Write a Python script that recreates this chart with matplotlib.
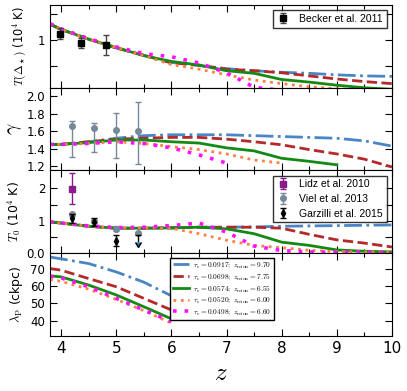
import numpy as np
import matplotlib.pyplot as plt
from matplotlib.ticker import MultipleLocator, FixedLocator, FixedFormatter

plt.rcParams['mathtext.fontset'] = 'cm'
plt.rcParams['font.family'] = 'DejaVu Sans'

# model grid
z_grid = [3.8, 4.0, 4.5, 5.0, 5.5, 6.0, 6.5, 7.0, 7.5, 8.0, 8.5, 9.0, 9.5, 10.0]

labels = [r"$\tau_{\rm e} = 0.0917;\ z_{\rm reion} = 9.70$",
          r"$\tau_{\rm e} = 0.0698;\ z_{\rm reion} = 7.75$",
          r"$\tau_{\rm e} = 0.0574;\ z_{\rm reion} = 6.55$",
          r"$\tau_{\rm e} = 0.0520;\ z_{\rm reion} = 6.00$",
          r"$\tau_{\rm e} = 0.0498;\ z_{\rm reion} = 6.60$"]
colors = ['#4a86c5', '#b22a2a', '#148a14', '#ff7f45', '#ff10ff']
styles = ['-.', '--', '-', ':', (0, (1, 2.2))]
widths = [2.0, 2.0, 2.0, 2.0, 2.6]

# T(Delta_star) in 10^4 K
tdel_blue = [1.30, 1.20, 1.01, 0.84, 0.70, 0.56, 0.50, 0.44, 0.40, 0.37, 0.35, 0.32, 0.30, 0.29]
tdel_red = [1.30, 1.20, 1.01, 0.84, 0.70, 0.55, 0.51, 0.43, 0.40, 0.36, 0.30, 0.24, 0.19, 0.15]
tdel_green = [1.30, 1.20, 1.01, 0.85, 0.69, 0.58, 0.51, 0.40, 0.35, 0.23, 0.18, 0.12, 0.07, 0.04]
tdel_orange = [1.30, 1.20, 1.01, 0.85, 0.69, 0.52, 0.43, 0.32, 0.22, 0.15, 0.09, 0.05, 0.03, 0.02]
tdel_magenta = [1.31, 1.21, 1.02, 0.86, 0.73, 0.67, 0.55, 0.36, 0.08, 0.02, 0.01, 0.01, 0.01, 0.01]

# gamma
gam_blue = [1.45, 1.45, 1.48, 1.52, 1.55, 1.56, 1.56, 1.56, 1.55, 1.54, 1.53, 1.52, 1.49, 1.43]
gam_red = [1.45, 1.45, 1.48, 1.51, 1.52, 1.53, 1.53, 1.51, 1.48, 1.445, 1.39, 1.34, 1.28, 1.19]
gam_green = [1.45, 1.45, 1.47, 1.50, 1.50, 1.48, 1.465, 1.41, 1.375, 1.29, 1.255, 1.215]
gam_orange = [1.45, 1.45, 1.46, 1.48, 1.46, 1.425, 1.39, 1.34, 1.27, 1.235]
gam_magenta = [1.45, 1.45, 1.46, 1.48, 1.46, 1.41, 1.33, 1.235]

# T0 in 10^4 K
t0_blue = [0.96, 0.93, 0.83, 0.77, 0.77, 0.78, 0.80, 0.80, 0.81, 0.83, 0.84, 0.85, 0.86, 0.87]
t0_red = [0.96, 0.93, 0.83, 0.77, 0.77, 0.78, 0.80, 0.80, 0.80, 0.77, 0.58, 0.41, 0.31, 0.19]
t0_green = [0.96, 0.93, 0.83, 0.77, 0.77, 0.78, 0.80, 0.75, 0.60, 0.34, 0.24, 0.10, 0.06, 0.04]
t0_orange = [0.96, 0.93, 0.83, 0.77, 0.77, 0.77, 0.60, 0.40, 0.24, 0.17, 0.09, 0.05, 0.04, 0.03]
t0_magenta = [0.97, 0.93, 0.84, 0.79, 0.80, 0.85, 0.93, 0.65, 0.22, 0.08, 0.04, 0.03, 0.03, 0.02]

# lambda_P in ckpc
lam_blue = [77.2, 76.2, 73.4, 68.5, 62.5, 54.5]
lam_red = [70.5, 69.5, 64.6, 59.8, 53.0, 46.2]
lam_green = [66.2, 65.6, 60.8, 55.0, 48.1, 41.0]
lam_orange = [64.0, 63.0, 58.4, 52.4, 45.8, 38.5]
lam_magenta = [66.0, 65.0, 59.8, 53.0, 46.2, 39.4]

# observations
becker_z = [3.98, 4.37, 4.82]
becker_t = [1.12, 0.94, 0.90]
becker_err = [0.10, 0.10, 0.20]

viel_z = [4.2, 4.6, 5.0, 5.4]
viel_gam = [1.66, 1.64, 1.62, 1.60]
viel_gam_lo = [0.36, 0.28, 0.33, 0.37]
viel_gam_hi = [0.06, 0.06, 0.19, 0.34]
viel_t0 = [1.20, 0.98, 0.76, 0.62]
viel_t0_err = [0.05, 0.05, 0.07, 0.04]

lidz_z = [4.2]
lidz_t0 = [1.99]
lidz_err = [0.47]

garz_z = [4.2, 4.6, 5.0]
garz_t0 = [1.07, 0.96, 0.39]
garz_err = [0.15, 0.13, 0.18]
garz_lim_z = [5.4]
garz_lim_t0 = [0.55]

fig, axes = plt.subplots(4, 1, sharex=True, figsize=(4.07, 3.91), dpi=100)
fig.subplots_adjust(left=0.123, right=0.963, top=0.987, bottom=0.141, hspace=0)

panels = [
    [tdel_blue, tdel_red, tdel_green, tdel_orange, tdel_magenta],
    [gam_blue, gam_red, gam_green, gam_orange, gam_magenta],
    [t0_blue, t0_red, t0_green, t0_orange, t0_magenta],
    [lam_blue, lam_red, lam_green, lam_orange, lam_magenta],
]

lines = []
for ax, series in zip(axes, panels):
    for k, y in enumerate(series):
        l, = ax.plot(z_grid[:len(y)], y, color=colors[k], ls=styles[k], lw=widths[k],
                     zorder=2)
        if ax is axes[3]:
            lines.append(l)

for ax in axes:
    ax.set_xlim(3.8, 10)
    ax.xaxis.set_major_locator(MultipleLocator(1))
    ax.xaxis.set_minor_locator(MultipleLocator(0.5))
    ax.tick_params(which='both', direction='in', top=True, right=True, labelsize=8.5)
    ax.tick_params(which='major', length=5, width=0.8)
    ax.tick_params(which='minor', length=3, width=0.8)

legfont = {'family': 'Liberation Sans', 'size': 7.5}

# panel 1
ax = axes[0]
ax.set_ylim(0.07, 1.67)
ax.yaxis.set_major_locator(FixedLocator([0.5, 1.0, 1.5]))
ax.yaxis.set_major_formatter(FixedFormatter(['', '1', '']))
ax.errorbar(becker_z, becker_t, yerr=becker_err, fmt='s', color='black', ms=4,
            ecolor='#444444', capsize=2.5, elinewidth=1, label='Becker et al. 2011', zorder=3)
ax.set_ylabel(r"$T(\Delta_\star)$ (10$^4$ K)", fontsize=8.3, labelpad=6)
leg = ax.legend(loc='upper right', prop=legfont, numpoints=1, fancybox=False,
                handlelength=1.2, handletextpad=1.0, borderpad=0.35, borderaxespad=0.5)
leg.get_frame().set_edgecolor('black')

# panel 2
ax = axes[1]
ax.set_ylim(1.15, 2.1)
ax.yaxis.set_major_locator(MultipleLocator(0.2))
ax.errorbar(viel_z, viel_gam, yerr=[viel_gam_lo, viel_gam_hi], fmt='o', color='#778899',
            ms=4, capsize=2.5, elinewidth=1, zorder=3)
ax.set_ylabel(r"$\gamma$", fontsize=14, labelpad=2)

# panel 3
ax = axes[2]
ax.set_ylim(0, 2.55)
ax.yaxis.set_major_locator(FixedLocator([0, 0.5, 1, 1.5, 2]))
ax.yaxis.set_major_formatter(FixedFormatter(['0.0', '', '1', '', '2']))
ax.errorbar(lidz_z, lidz_t0, yerr=lidz_err, fmt='s', color='#8b1a8b', ms=4,
            capsize=2.5, elinewidth=1, label='Lidz et al. 2010', zorder=3)
ax.errorbar(viel_z, viel_t0, yerr=viel_t0_err, fmt='o', color='#778899', ms=4,
            capsize=2.5, elinewidth=1, label='Viel et al. 2013', zorder=3)
ax.errorbar(garz_z, garz_t0, yerr=garz_err, fmt='d', color='black', ms=4,
            capsize=2.5, elinewidth=1, label='Garzilli et al. 2015', zorder=4)
ax.errorbar(garz_lim_z, garz_lim_t0, yerr=0.2, uplims=True, fmt='none', ecolor='black',
            capsize=2.5, elinewidth=1, zorder=4)
ax.set_ylabel(r"$T_0$ (10$^4$ K)", fontsize=9, labelpad=3)
leg = ax.legend(loc='upper right', prop=legfont, numpoints=1, fancybox=False,
                handlelength=1.2, handletextpad=1.0, borderpad=0.35, labelspacing=0.45,
                borderaxespad=0.5)
leg.get_frame().set_edgecolor('black')

# panel 4
ax = axes[3]
ax.set_ylim(31, 79.5)
ax.yaxis.set_major_locator(MultipleLocator(10))
ax.set_ylabel(r"$\lambda_{\rm P}$ (ckpc)", fontsize=9, labelpad=4)
leg = ax.legend(lines, labels, loc='lower left', bbox_to_anchor=(0.34, 0.15),
                fontsize=5.3, fancybox=False, framealpha=1, borderpad=0.35,
                labelspacing=0.3, handlelength=2.2, handletextpad=0.6)
leg.get_frame().set_edgecolor('black')
ax.set_xlabel(r"$z$", fontsize=18)
ax.tick_params(axis='x', labelsize=11)

fig.savefig('out.png', dpi=100)
